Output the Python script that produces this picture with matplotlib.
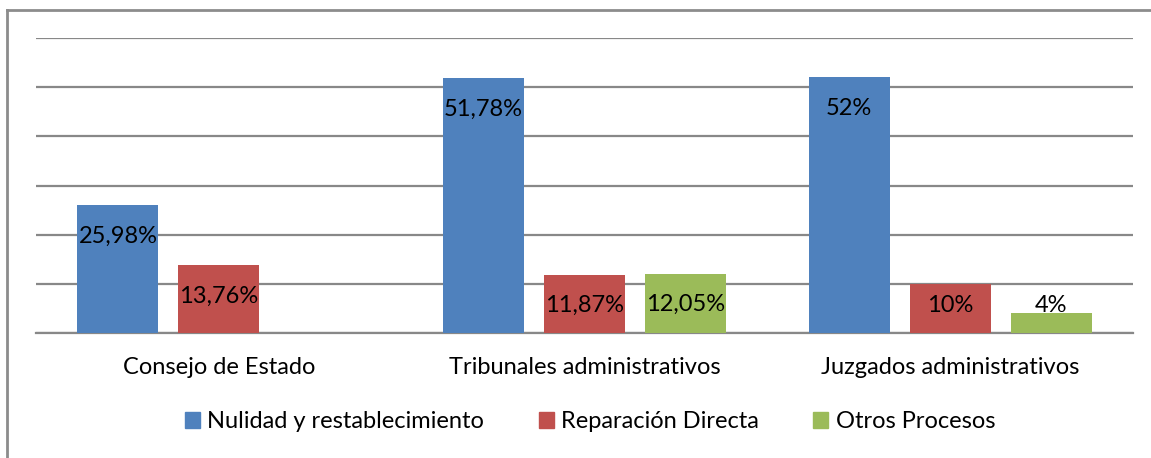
import numpy as np
import matplotlib.pyplot as plt
from matplotlib.lines import Line2D

categories = ['Consejo de Estado', 'Tribunales administrativos', 'Juzgados administrativos']
series = ['Nulidad y restablecimiento', 'Reparación Directa', 'Otros Procesos']
nulidad = [25.98, 51.78, 52]
reparacion = [13.76, 11.87, 10]
otros = [None, 12.05, 4]
labels_nulidad = ['25,98%', '51,78%', '52%']
labels_reparacion = ['13,76%', '11,87%', '10%']
labels_otros = ['', '12,05%', '4%']

colors = ['#4F81BD', '#C0504D', '#9BBB59']

plt.rcParams['font.family'] = ['Lato', 'DejaVu Sans']

fig = plt.figure(figsize=(11.51, 4.58), dpi=100)
ax = fig.add_axes([36 / 1151, 1 - 333 / 458, 1097 / 1151, 295 / 458])

x = np.arange(len(categories))
w = 0.2215
step = 0.276
fs = 17

all_vals = [nulidad, reparacion, otros]
all_labels = [labels_nulidad, labels_reparacion, labels_otros]
for i, (vals, labs) in enumerate(zip(all_vals, all_labels)):
    xs = x + (i - 1) * step
    for xi, v, lab in zip(xs, vals, labs):
        if v is None:
            continue
        ax.bar(xi, v, width=w, color=colors[i], zorder=3)
        ax.text(xi, max(v - 6.3, 5.5), lab, ha='center', va='center', fontsize=fs, color='black', zorder=4)

ax.set_xlim(-0.5, 2.5)
ax.set_ylim(0, 60)
ax.set_yticks(np.arange(0, 61, 10))
ax.yaxis.grid(True, color='#888888', linewidth=1.6, zorder=0)
ax.set_yticklabels([])
ax.tick_params(left=False, bottom=False, labelsize=fs, pad=14)
ax.set_xticks(x)
ax.set_xticklabels(categories)
for s in ['top', 'right', 'left']:
    ax.spines[s].set_visible(False)
ax.spines['bottom'].set_color('#888888')
ax.spines['bottom'].set_linewidth(1.6)

handles = [plt.Rectangle((0, 0), 1, 1, color=c) for c in colors]
fig.legend(handles, series, loc='center', bbox_to_anchor=(590 / 1151, 1 - 422 / 458), ncol=3,
           frameon=False, fontsize=fs, handlelength=0.65, handleheight=0.65,
           handletextpad=0.3, columnspacing=2.3)

# outer frame (top and left edges only)
fig.add_artist(Line2D([6.5 / 1151, 1], [1 - 9.5 / 458, 1 - 9.5 / 458], color='#8c8c8c', linewidth=2))
fig.add_artist(Line2D([6.5 / 1151, 6.5 / 1151], [0, 1 - 9.5 / 458], color='#8c8c8c', linewidth=2))

fig.savefig('out.png', dpi=100)
